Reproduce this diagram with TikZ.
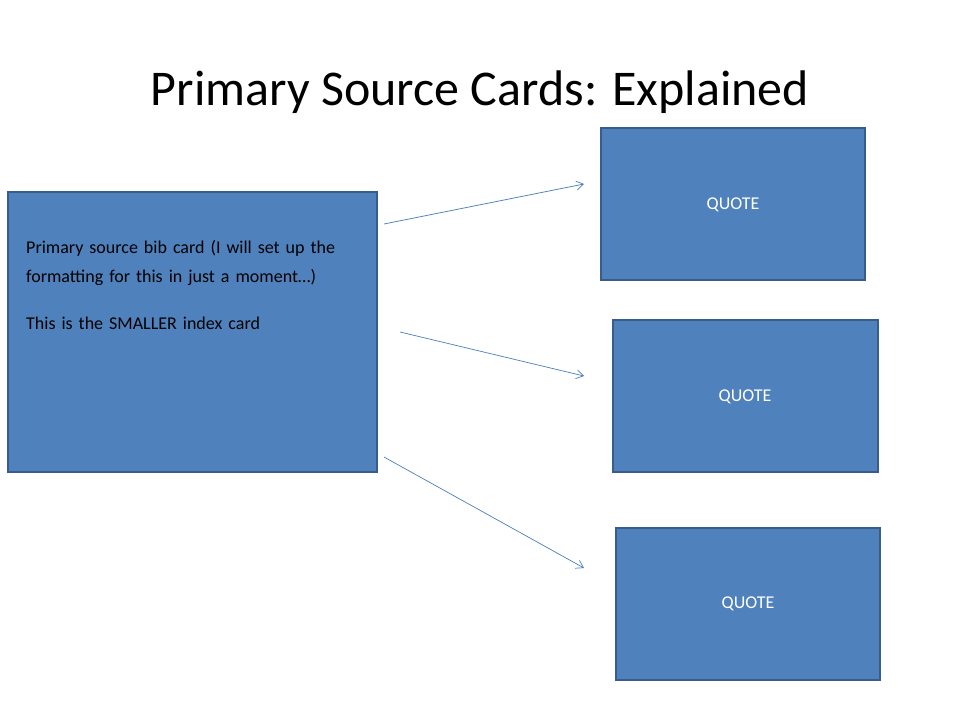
\documentclass[tikz,border=0pt]{standalone}
\usepackage{fontspec}
\setmainfont{Carlito}
\usetikzlibrary{arrows.meta}
\definecolor{boxfill}{HTML}{4F81BD}
\definecolor{boxline}{HTML}{385D8A}
\definecolor{arr}{HTML}{4A7EBB}
\begin{document}
\begin{tikzpicture}[x=1pt,y=-1pt,
  card/.style={draw=boxline,line width=1.5pt,fill=boxfill},
  conn/.style={draw=arr,line width=0.7pt,-{Straight Barb[length=7pt,width=9pt]}}]
\useasboundingbox (0,0) rectangle (960,720);
\node[font=\fontsize{50}{60}\selectfont] (title) at (480,92) {Primary Source Cards: Explained};
\draw[card] (8,192) rectangle (377,472);
\node[anchor=north west,align=left,text width=330pt,font=\fontsize{18}{29}\selectfont,inner sep=0] (src) at (26,240)
 {Primary source bib card (I will set up the formatting for this in just a moment…)\\[18pt]This is the SMALLER index card};
\draw[card] (601,128) rectangle (865,280);
\node[text=white,font=\fontsize{18}{22}\selectfont] (q1) at (733,205) {QUOTE};
\draw[card] (613,320) rectangle (878,472);
\node[text=white,font=\fontsize{18}{22}\selectfont] (q2) at (745,397) {QUOTE};
\draw[card] (616,528) rectangle (880,680);
\node[text=white,font=\fontsize{18}{22}\selectfont] (q3) at (748,604) {QUOTE};
\coordinate (a1) at (384,224); \coordinate (b1) at (584,184);
\coordinate (a2) at (400,332); \coordinate (b2) at (584,376);
\coordinate (a3) at (384,457); \coordinate (b3) at (584,568);
\draw[conn] (a1) -- (b1);
\draw[conn] (a2) -- (b2);
\draw[conn] (a3) -- (b3);
\end{tikzpicture}
\end{document}
